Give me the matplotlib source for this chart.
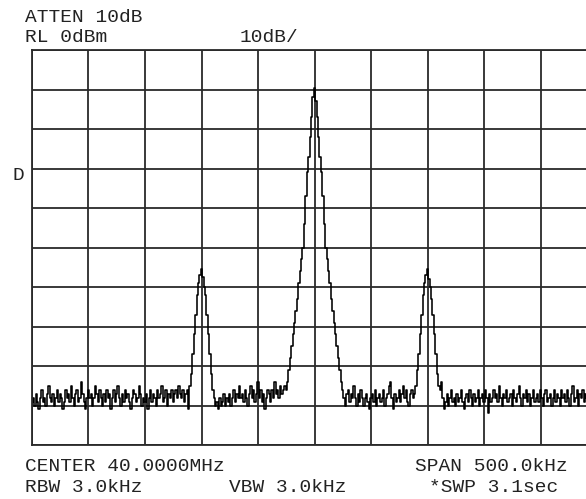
import numpy as np
import matplotlib
matplotlib.use("Agg")
import matplotlib.pyplot as plt

# analyzer settings shown on screen
center_mhz = 40.0
span_khz = 500.0
ref_level = 0
db_per_div = 10

# trace, 401 points across the span (dBm)
noise_left = [
    -89, -88, -90, -87, -89, -91, -88, -86, -89, -88, -90, -87, -85, -88, -89, -87, -90, -88, -86, -89,
    -87, -88, -91, -89, -86, -88, -87, -89, -85, -88, -90, -87, -86, -89, -88, -84, -87, -89, -91, -88,
    -86, -88, -87, -90, -88, -85, -87, -89, -86, -88, -90, -87, -89, -86, -88, -87, -91, -88, -86, -89,
    -87, -85, -88, -90, -87, -89, -86, -88, -87, -89, -91, -88, -86, -87, -89, -88, -85, -87, -90, -88,
    -89, -87, -91, -88, -86, -89, -87, -88, -90, -86, -88, -87, -85, -89, -88, -86, -90, -87, -88, -86,
    -89, -87, -86, -88, -85, -87, -88, -86, -89, -87, -86, -91,
]
sideband_low = [-85, -82, -77, -72, -67, -62, -59, -57, -55.5, -57.5, -60, -62, -67, -72, -77, -82, -86]
noise_mid1 = [
    -88, -90, -89, -91, -88, -90, -89, -87, -90, -88, -89, -87, -90, -88, -86, -89, -87, -88, -85, -88,
    -87, -89, -86, -88, -90, -87, -85, -88, -86, -89, -87, -84, -88, -86, -89, -87, -91, -88, -86, -87,
    -89, -86, -88, -84, -87, -86, -88, -85, -87, -86, -85,
]
carrier = [
    -86, -84, -81, -78, -75, -72, -69, -66, -63, -59, -56, -53, -50, -44, -37, -31, -27, -22, -17, -12,
    -9.6,
    -13, -17, -22, -27, -31, -37, -44, -50, -53, -56, -59, -63, -66, -69, -72, -75, -78, -81, -84, -86,
]
noise_mid2 = [
    -88, -90, -87, -86, -89, -87, -88, -85, -88, -90, -87, -89, -86, -88, -90, -88, -87, -89, -91, -88,
    -87, -89, -86, -90, -88, -87, -89, -88, -86, -90, -88, -87, -85, -84, -88, -91, -87, -89, -88, -86,
    -89, -87, -85, -88, -86, -89, -90, -87, -86, -88, -87,
]
sideband_high = [-85, -81, -77, -72, -67, -62, -59, -57, -55.5, -58, -60, -63, -67, -72, -77, -82, -85]
noise_right = [
    -86, -84, -88, -91, -89, -87, -90, -88, -86, -89, -88, -90, -87, -89, -88, -86, -89, -91, -88, -87,
    -89, -86, -88, -90, -87, -89, -88, -86, -90, -88, -87, -89, -86, -88, -92, -87, -89, -88, -86, -88,
    -87, -89, -85, -88, -90, -87, -88, -86, -89, -88, -87, -90, -86, -88, -89, -87, -85, -88, -90, -87,
    -88, -86, -89, -87, -90, -88, -86, -89, -88, -87, -89, -86, -88, -90, -87, -86, -89, -88, -87, -90,
    -88, -86, -89, -87, -88, -90, -86, -88, -87, -89, -86, -88, -90, -87, -85, -89, -88, -86, -90, -87,
    -88, -86, -89, -87, -88, -90, -86, -88, -87, -89, -88, -87,
]

level = noise_left + sideband_low + noise_mid1 + carrier + noise_mid2 + sideband_high + noise_right
freq = np.linspace(-span_khz / 2, span_khz / 2, len(level))

W, H = 586, 499
fig = plt.figure(figsize=(W / 100, H / 100), dpi=100)
fig.patch.set_facecolor("white")

# graticule runs off the right edge of the screenshot
ax = fig.add_axes([32 / W, (H - 445) / H, 565 / W, 395 / H])
ax.plot(freq, level, color="black", lw=1.15, drawstyle="steps-mid")
ax.set_xlim(-span_khz / 2, span_khz / 2)
ax.set_ylim(ref_level - 10 * db_per_div, ref_level)
ax.set_xticks(np.linspace(-span_khz / 2, span_khz / 2, 11))
ax.set_yticks(np.arange(ref_level - 10 * db_per_div, ref_level + 1, db_per_div))
ax.tick_params(length=0, labelbottom=False, labelleft=False)
ax.grid(True, color="#2a2a2a", lw=1.3)
for s in ax.spines.values():
    s.set_color("#2a2a2a")
    s.set_linewidth(1.3)

font = dict(family="Liberation Mono", size=14, color="#222222", va="baseline")

def put(x, y, s, ha="left"):
    fig.text(x / W, 1 - y / H, s, ha=ha, **font)

put(25, 22, "ATTEN 10dB")
put(25, 42, "RL 0dBm")
put(269, 42, "10dB/", "center")
put(12, 180, "D")
put(25, 471, "CENTER %.4fMHz" % center_mhz)
put(491, 471, "SPAN %.1fkHz" % span_khz, "center")
put(25, 492, "RBW 3.0kHz")
put(288, 492, "VBW 3.0kHz", "center")
put(494, 492, "*SWP 3.1sec", "center")

fig.savefig("out.png", dpi=100)
